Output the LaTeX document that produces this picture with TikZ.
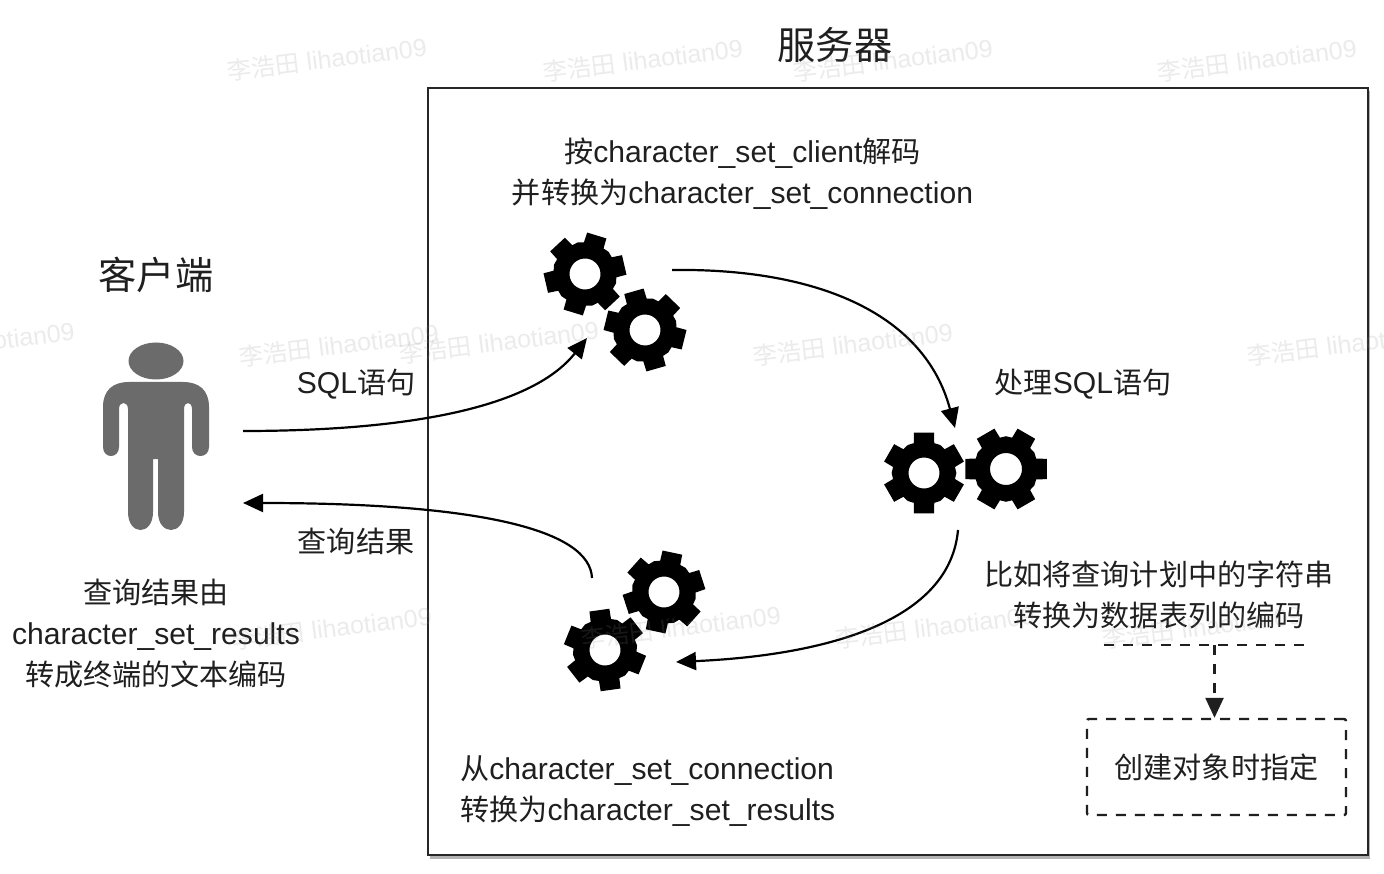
\documentclass[tikz,border=0pt]{standalone}
\usepackage{fontspec}
\setmainfont{Liberation Sans}
\newfontfamily\cjk[Scale=0.967]{Noto Sans CJK SC}
\usetikzlibrary{arrows.meta}
\newcommand{\C}[1]{{\cjk #1}}
\newcommand{\WM}[3]{\node[wmark,#1] at (#2) {#3};}
\newcommand{\gearat}[5]{% name, center, outer radius, angle, hole
  \coordinate (#1) at (#2);
  \fill[even odd rule,shift={(#1)},rotate=#4]
    (-19:#3*0.76) \foreach \i in {0,60,...,300} {
      -- (\i-19:#3*0.76) -- (\i-14:#3) -- (\i+14:#3) -- (\i+19:#3*0.76) -- (\i+30:#3*0.78) -- (\i+41:#3*0.76)
    } -- cycle (0,0) circle[radius=#5];
}
\tikzset{
  txt/.style={inner sep=0pt,align=center,font=\fontsize{30.1}{41}\selectfont,text=black!88},
  title/.style={inner sep=0pt,font=\fontsize{39.5}{46}\selectfont,text=black!88},
  wmark/.style={inner sep=0pt,rotate=7,font=\fontsize{25}{30}\selectfont,text=black!45,text opacity=0.17},
  flow/.style={line width=2.2pt,draw=black,-{Triangle[length=20pt,width=18pt]}},
  dashline/.style={line width=2.4pt,draw=black!88,dash pattern=on 10pt off 9pt},
}
\begin{document}
\begin{tikzpicture}[x=1pt,y=-1pt]
\useasboundingbox (0,0) rectangle (1384,874);
\fill[white] (0,0) rectangle (1384,874);
% server box
\fill[black!30] (430,91) rectangle (1370,859);
\node[draw=black!85,fill=white,line width=2.5pt,minimum width=940pt,minimum height=767pt,inner sep=0pt] (server) at (898,471.5) {};
% titles
\node[title] (servertitle) at (835,45) {\C{服务器}};
\node[title] (clienttitle) at (156,275) {\C{客户端}};
% person
\coordinate (person) at (156,430);
\fill[black!58] (156,361) ellipse [x radius=27.5,y radius=18.5];
\fill[black!58] (103,407) .. controls (103,390) and (113,382) .. (129,382) -- (183,382)
  .. controls (199,382) and (209,390) .. (209,407) -- (209,447)
  .. controls (209,459) and (192,459) .. (192,447) -- (192,409)
  .. controls (192,401) and (184,401) .. (184,409) -- (184,512)
  .. controls (184,536) and (158,536) .. (158,512) -- (158,459) -- (153,459) -- (153,512)
  .. controls (153,536) and (128,536) .. (128,512) -- (128,409)
  .. controls (128,401) and (119,401) .. (119,409) -- (119,447)
  .. controls (119,459) and (103,459) .. (103,447) -- cycle;
% gears
\gearat{g1}{585,274}{41.5}{13}{15.5}
\gearat{g2}{645,330}{41.5}{-14}{15.5}
\gearat{g3}{924,473}{41.5}{30}{15.5}
\gearat{g4}{1006,469}{42}{0}{16}
\gearat{g5}{664,592}{41.5}{-42}{15.5}
\gearat{g6}{605,650}{41.5}{-22}{15.5}
% texts
\node[txt] (t1) at (742.5,174) {\C{按}character\_set\_client\C{解码}\\\C{并转换为}character\_set\_connection};
\node[txt] (t2) at (356,384.5) {SQL\C{语句}};
\node[txt] (t3) at (356,541) {\C{查询结果}};
\node[txt] (t4) at (1083,384.5) {\C{处理}SQL\C{语句}};
\node[txt] (t5) at (1159,594.5) {\C{比如将查询计划中的字符串}\\\C{转换为数据表列的编码}};
\node[txt,align=left,anchor=west] (t6) at (460,791) {\C{从}character\_set\_connection\\\C{转换为}character\_set\_results};
\node[txt] (t7) at (156,634) {\C{查询结果由}\\character\_set\_results\\\C{转成终端的文本编码}};
% dashed part
\node[dashline,draw,minimum width=259pt,minimum height=96pt,inner sep=0pt,rounded corners=2pt] (dbox) at (1216.5,767) {};
\node[txt] (t8) at (dbox) {\C{创建对象时指定}};
\coordinate (dl) at (1104,645);
\coordinate (dr) at (1304,645);
\coordinate (dm) at (1214.5,645);
\draw[dashline] (dl) -- (dr);
\draw[dashline,-{Triangle[length=20pt,width=18pt]}] (dm) -- (dm |- dbox.north);
% connectors
\coordinate (a1s) at (243,431); \coordinate (a1e) at (587,338);
\coordinate (a2s) at (672,270); \coordinate (a2e) at (955,428);
\coordinate (a3s) at (958,530); \coordinate (a3e) at (676,662);
\coordinate (a4s) at (592,578); \coordinate (a4e) at (243,503);
\draw[flow] (a1s) .. controls (400,431) and (530,410) .. (a1e);
\draw[flow] (a2s) .. controls (820,268) and (925,315) .. (a2e);
\draw[flow] (a3s) .. controls (950,620) and (830,655) .. (a3e);
\draw[flow] (a4s) .. controls (590,530) and (480,503) .. (a4e);
% watermarks
\WM{}{327,59}{\C{李浩田} lihaotian09}
\WM{}{643,60}{\C{李浩田} lihaotian09}
\WM{}{893,60}{\C{李浩田} lihaotian09}
\WM{}{1257,60}{\C{李浩田} lihaotian09}
\WM{}{-25,343}{\C{李浩田} lihaotian09}
\WM{}{339,345}{\C{李浩田} lihaotian09}
\WM{}{499,342}{\C{李浩田} lihaotian09}
\WM{}{853,344}{\C{李浩田} lihaotian09}
\WM{}{1347,344}{\C{李浩田} lihaotian09}
\WM{}{332,628}{\C{李浩田} lihaotian09}
\WM{}{681,627}{\C{李浩田} lihaotian09}
\WM{}{935,627}{\C{李浩田} lihaotian09}
\WM{}{1202,627}{\C{李浩田} lihaotian09}
\end{tikzpicture}
\end{document}
